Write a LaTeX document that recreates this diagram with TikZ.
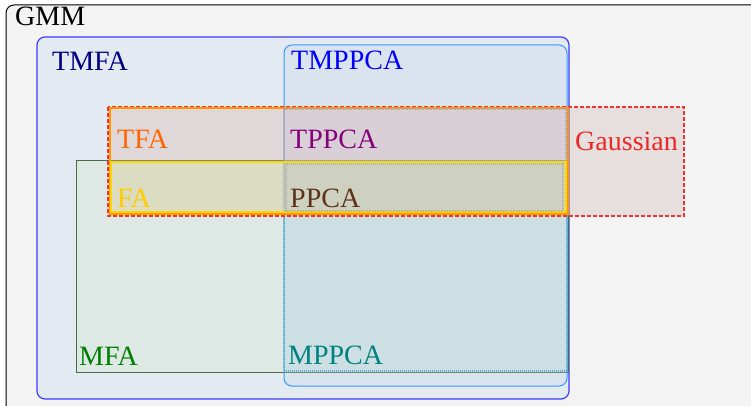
\documentclass[tikz,border=0pt]{standalone}
\usepackage{fontspec}
\setmainfont{Liberation Serif}

\definecolor{gmmfill}{RGB}{243,243,243}
\definecolor{tmfaline}{RGB}{60,60,255}
\definecolor{tmfafill}{RGB}{196,216,240}
\definecolor{tmppcaline}{RGB}{51,153,255}
\definecolor{tmppcafill}{RGB}{196,215,235}
\definecolor{mfaline}{RGB}{70,110,70}
\definecolor{mfafill}{RGB}{209,228,199}
\definecolor{mppcaline}{RGB}{90,170,200}
\definecolor{mppcafill}{RGB}{182,218,218}
\definecolor{gaussline}{RGB}{238,51,51}
\definecolor{gaussfill}{RGB}{206,176,176}
\definecolor{tfaline}{RGB}{255,150,0}
\definecolor{tfafill}{RGB}{255,210,170}
\definecolor{tppcaline}{RGB}{165,165,175}
\definecolor{tppcafill}{RGB}{200,180,230}
\definecolor{faline}{RGB}{255,215,0}
\definecolor{fafill}{RGB}{220,235,170}
\definecolor{ppcaline}{RGB}{170,175,170}
\definecolor{ppcafill}{RGB}{190,190,180}
\definecolor{tfatext}{RGB}{255,102,0}
\definecolor{fatext}{RGB}{255,204,0}
\definecolor{ppcatext}{RGB}{92,51,23}
\definecolor{gausstext}{RGB}{235,40,40}

\begin{document}
\begin{tikzpicture}[x=1pt, y=-1pt,
    set/.style={line width=1pt, fill opacity=0.3},
    lbl/.style={anchor=base west, inner sep=0pt, font=\fontsize{28}{30}\selectfont}
]
\useasboundingbox (0,0) rectangle (751,406);
\clip (0,0) rectangle (751,406);

% outer set
\draw[black, line width=1pt, fill=gmmfill, rounded corners=8pt] (6,5) rectangle (770,425);

% mixtures
\draw[set, draw=tmfaline, line width=1.2pt, fill=tmfafill, rounded corners=8pt] (37,37) rectangle (569,399);
\draw[set, draw=mfaline, fill=mfafill] (76,161) rectangle (568,372);
\draw[set, draw=tmppcaline, fill=tmppcafill, rounded corners=8pt] (284,45) rectangle (567,386);
\draw[set, draw=mppcaline, densely dotted, line width=1.2pt, fill=mppcafill] (284,161) rectangle (567,371);

% single components
\draw[set, draw=gaussline, dash pattern=on 4pt off 2pt, line width=1.2pt, fill=gaussfill] (108,107) rectangle (684,216);
\draw[set, draw=tfaline, line width=2pt, fill=tfafill, fill opacity=0.1] (110,108) rectangle (568,214);
\draw[set, draw=tppcaline, densely dotted, line width=1.5pt, fill=tppcafill, fill opacity=0.1] (284,109) rectangle (566,212);
\draw[set, draw=faline, line width=2pt, fill=fafill] (111,162) rectangle (566,212);
\draw[set, draw=ppcaline, densely dotted, line width=1.5pt, fill=ppcafill, fill opacity=0.2] (286,164) rectangle (563,211);

% labels
\node[lbl] (gmm) at (15,26) {GMM};
\node[lbl, text=blue!50!black] (tmfa) at (52,71) {TMFA};
\node[lbl, text=blue] (tmppca) at (291,70) {TMPPCA};
\node[lbl, text=tfatext] (tfa) at (117,149) {TFA};
\node[lbl, text=purple!70!blue] (tppca) at (290,149) {TPPCA};
\node[lbl, text=gausstext] (gauss) at (575,150) {Gaussian};
\node[lbl, text=fatext] (fa) at (117,207) {FA};
\node[lbl, text=ppcatext] (ppca) at (290,207) {PPCA};
\node[lbl, text=green!50!black] (mfa) at (79,365) {MFA};
\node[lbl, text=teal] (mppca) at (288,364) {MPPCA};
\end{tikzpicture}
\end{document}
